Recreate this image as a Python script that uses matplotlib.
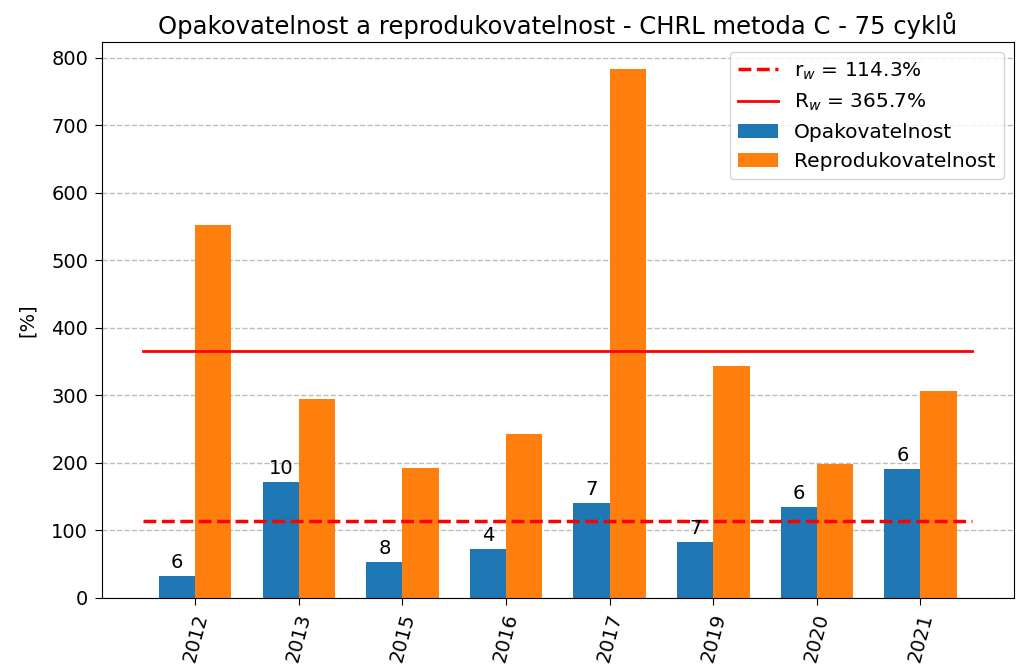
#!/usr/bin/env python3

import matplotlib
matplotlib.use("Agg")
import matplotlib.pyplot as plt
import numpy as np

# Data
years = ["2012", "2013", "2015", "2016", "2017", "2019", "2020", "2021"]
opakovatelnost = [32, 171, 53, 72, 141, 83, 134, 191]
reprodukovatelnost = [553, 295, 193, 243, 784, 343, 199, 306]
counts = [6, 10, 8, 4, 7, 7, 6, 6]
r_w = 114.3
R_w = 365.7


def main():
	plt.rcParams['font.size'] = 14
	fig, ax = plt.subplots(figsize=(10.25, 6.71), dpi=100)
	fig.subplots_adjust(left=0.0995, right=0.989, top=0.937, bottom=0.109)

	x = np.arange(len(years))
	width = 0.35

	ax.grid(True, axis="y", linestyle="--", color="#bdbdbd", linewidth=1)
	ax.set_axisbelow(True)

	ax.plot([x[0] - 0.5, x[-1] + 0.5], [r_w, r_w], color="red", linestyle="--", linewidth=2.5,
		label=f"r$_w$ = {r_w:.1f}%")
	ax.plot([x[0] - 0.5, x[-1] + 0.5], [R_w, R_w], color="red", linestyle="-", linewidth=2,
		label=f"R$_w$ = {R_w:.1f}%")

	bars_o = ax.bar(x - width / 2, opakovatelnost, width, color="#1f77b4", label="Opakovatelnost")
	ax.bar(x + width / 2, reprodukovatelnost, width, color="#ff7f0e", label="Reprodukovatelnost")

	# number of labs above blue bars
	for b, n in zip(bars_o, counts):
		ax.annotate(str(n), (b.get_x() + b.get_width() / 2, b.get_height()),
			xytext=(0, 3), textcoords="offset points", ha="center", va="bottom", fontsize=14)

	ax.set_xticks(x)
	ax.set_xticklabels(years, rotation=75)
	ax.tick_params(length=5, pad=5)
	ax.set_ylabel("[%]", labelpad=10)
	ax.set_title("Opakovatelnost a reprodukovatelnost - CHRL metoda C - 75 cyklů", fontsize=17.5)
	ax.legend(loc="upper right", fontsize=14.5)

	fig.savefig("out.png", dpi=100)


if __name__ == "__main__":
	main()
